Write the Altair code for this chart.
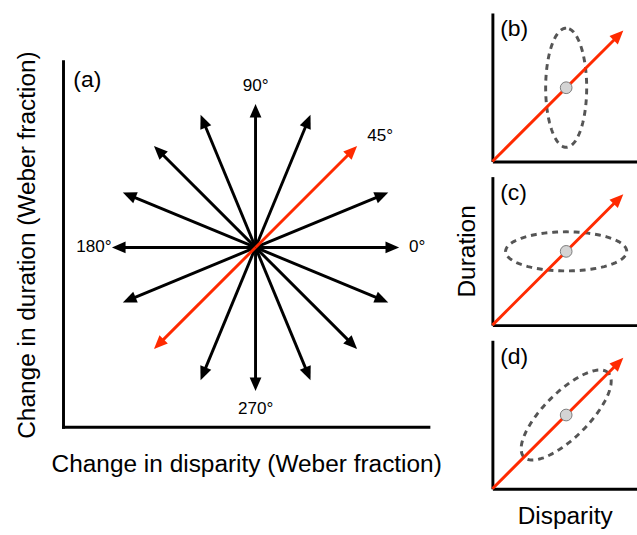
import altair as alt
import numpy as np
import pandas as pd

# ---------------- data ----------------
# Panel (a): directions of the 16 arrows, in degrees
angles = [0, 22.5, 45, 67.5, 90, 112.5, 135, 157.5, 180, 202.5, 225, 247.5, 270, 292.5, 315, 337.5]
highlight = [45, 225]           # red double-headed arrow
label_angles = [0, 90, 180, 270]
label_texts = ["0°", "90°", "180°", "270°"]
diag_angle = 45
diag_text = "45°"

# Panels (b)-(d)
panel_labels = ["(b)", "(c)", "(d)"]
ell_center = 0.755
ell_major = [0.61, 0.62, 0.61]
ell_minor = [0.21, 0.20, 0.23]
ell_rot = [90, 0, 45]
diag_tip = 1.34

RED = "#ff2a00"
FONT = "Liberation Sans"
HEAD = "M0,0L0.43,1L-0.43,1Z"
HEAD_SIZE = 784
SHAFT = 0.94

# ---------------- panel (a) ----------------
XMIN_A, XMAX_A = -1.337, 1.207
YMIN_A, YAX_A, YMAX_A = -1.252, 1.293, 1.633   # YAX_A: top of the drawn axis line

rad = np.deg2rad(angles)
df_a = pd.DataFrame({
    "ang": angles,
    "x0": 0.0, "y0": 0.0,
    "xe": np.cos(rad) * SHAFT, "ye": np.sin(rad) * SHAFT,
    "x": np.cos(rad), "y": np.sin(rad),
    "rot": [(90 - a) % 360 for a in angles],
    "kind": ["red" if a in highlight else "black" for a in angles],
})

xs_a = alt.Scale(domain=[XMIN_A, XMAX_A], nice=False, zero=False)
ys_a = alt.Scale(domain=[YMIN_A, YMAX_A], nice=False, zero=False)
ax_xa = alt.Axis(title="Change in disparity (Weber fraction)", titlePadding=25, domain=False)
ax_ya = alt.Axis(title="Change in duration (Weber fraction)", titlePadding=25, domain=False, titleY=237)
col = alt.Color("kind:N", scale=alt.Scale(domain=["black", "red"], range=["black", RED]), legend=None)

# axis lines of panel (a)
df_axes = pd.DataFrame({"x0": [XMIN_A, XMIN_A], "y0": [YMIN_A, YMIN_A],
                        "xe": [XMIN_A, XMAX_A], "ye": [YAX_A, YMIN_A]})
axes_a = alt.Chart(df_axes).mark_rule(color="black", strokeWidth=3, strokeCap="square").encode(
    x=alt.X("x0:Q", scale=xs_a, axis=ax_xa),
    y=alt.Y("y0:Q", scale=ys_a, axis=ax_ya),
    x2="xe:Q", y2="ye:Q",
)

base_a = alt.Chart(df_a)
shafts = base_a.mark_rule(strokeWidth=3).encode(
    x=alt.X("x0:Q", scale=xs_a, axis=ax_xa),
    y=alt.Y("y0:Q", scale=ys_a, axis=ax_ya),
    x2="xe:Q", y2="ye:Q", color=col,
    order=alt.Order("kind:N"),
)
heads = base_a.mark_point(shape=HEAD, filled=True, size=HEAD_SIZE, opacity=1).encode(
    x=alt.X("x:Q", scale=xs_a, axis=ax_xa),
    y=alt.Y("y:Q", scale=ys_a, axis=ax_ya),
    angle=alt.Angle("rot:Q", scale=None),
    color=col,
)

lr = np.deg2rad(label_angles)
df_lab = pd.DataFrame({"x": np.cos(lr) * 1.125, "y": np.sin(lr) * 1.125, "t": label_texts})
labels = alt.Chart(df_lab).mark_text(font=FONT, fontSize=17.5, color="black",
                                     align="center", baseline="middle").encode(
    x=alt.X("x:Q", scale=xs_a, axis=ax_xa),
    y=alt.Y("y:Q", scale=ys_a, axis=ax_ya),
    text="t:N",
)
dr = np.deg2rad(diag_angle)
df_diag = pd.DataFrame({"x": [np.cos(dr) * 1.1], "y": [np.sin(dr) * 1.1], "t": [diag_text]})
diag_lab = alt.Chart(df_diag).mark_text(font=FONT, fontSize=17.5, color="black",
                                        align="left", baseline="middle").encode(
    x=alt.X("x:Q", scale=xs_a, axis=ax_xa),
    y=alt.Y("y:Q", scale=ys_a, axis=ax_ya),
    text="t:N",
)
tag_a = alt.Chart(pd.DataFrame({"t": ["(a)"]})).mark_text(
    font=FONT, fontSize=23.5, align="left", baseline="middle", color="black"
).encode(x=alt.value(10), y=alt.value(69), text="t:N")

panel_a = alt.layer(axes_a, shafts, heads, labels, diag_lab, tag_a).properties(width=374, height=424)

# ---------------- panels (b)-(d) ----------------
xs_r = alt.Scale(domain=[0, 1.48], nice=False, zero=False)
ys_r = alt.Scale(domain=[0, 1.52], nice=False, zero=False)


def small_panel(i, xtitle=None, ytitle=None):
    ax_x = alt.Axis(title=xtitle, titlePadding=16) if xtitle else alt.Axis(title=None)
    ax_y = alt.Axis(title=ytitle, titlePadding=13) if ytitle else alt.Axis(title=None)
    X = lambda f: alt.X(f, scale=xs_r, axis=ax_x)
    Y = lambda f: alt.Y(f, scale=ys_r, axis=ax_y)

    t = np.linspace(0, 2 * np.pi, 121)
    phi = np.deg2rad(ell_rot[i])
    a, b = ell_major[i], ell_minor[i]
    ex = ell_center + a * np.cos(t) * np.cos(phi) - b * np.sin(t) * np.sin(phi)
    ey = ell_center + a * np.cos(t) * np.sin(phi) + b * np.sin(t) * np.cos(phi)
    df_e = pd.DataFrame({"x": ex, "y": ey, "i": np.arange(len(t))})
    ell = alt.Chart(df_e).mark_line(color="#555555", strokeWidth=3, strokeDash=[6, 5]).encode(
        x=X("x:Q"), y=Y("y:Q"), order="i:Q")

    df_ar = pd.DataFrame({"x": [0.0], "y": [0.0], "xe": [diag_tip * SHAFT], "ye": [diag_tip * SHAFT],
                          "tx": [diag_tip], "ty": [diag_tip], "rot": [45]})
    shaft = alt.Chart(df_ar).mark_rule(color=RED, strokeWidth=3).encode(
        x=X("x:Q"), y=Y("y:Q"), x2="xe:Q", y2="ye:Q")
    head = alt.Chart(df_ar).mark_point(shape=HEAD, filled=True, size=HEAD_SIZE, color=RED, opacity=1).encode(
        x=X("tx:Q"), y=Y("ty:Q"), angle=alt.Angle("rot:Q", scale=None))

    df_c = pd.DataFrame({"x": [ell_center], "y": [ell_center]})
    dot = alt.Chart(df_c).mark_point(shape="circle", filled=True, size=144, fill="#d4d4d4",
                                     stroke="#7a7a7a", strokeWidth=1, opacity=1).encode(
        x=X("x:Q"), y=Y("y:Q"))

    tag = alt.Chart(pd.DataFrame({"t": [panel_labels[i]]})).mark_text(
        font=FONT, fontSize=23.5, align="left", baseline="middle", color="black"
    ).encode(x=alt.value(8), y=alt.value(17), text="t:N")

    return alt.layer(ell, shaft, head, dot, tag).properties(width=148, height=152)


pb = small_panel(0)
pc = small_panel(1, ytitle="Duration")
pd_ = small_panel(2, xtitle="Disparity")
right = alt.vconcat(pb, pc, pd_, spacing=15.5, bounds="flush")

chart = alt.hconcat(panel_a, right, spacing=14).properties(
    padding={"left": 15, "top": 7, "right": 0, "bottom": 0}
).configure_view(stroke=None).configure_axis(
    domainColor="black", domainWidth=3, ticks=False, labels=False, grid=False,
    titleFont=FONT, titleFontWeight="normal", titleColor="black", titleFontSize=25,
)

chart.save("out.html", embed_options={"renderer": "svg", "actions": False})
